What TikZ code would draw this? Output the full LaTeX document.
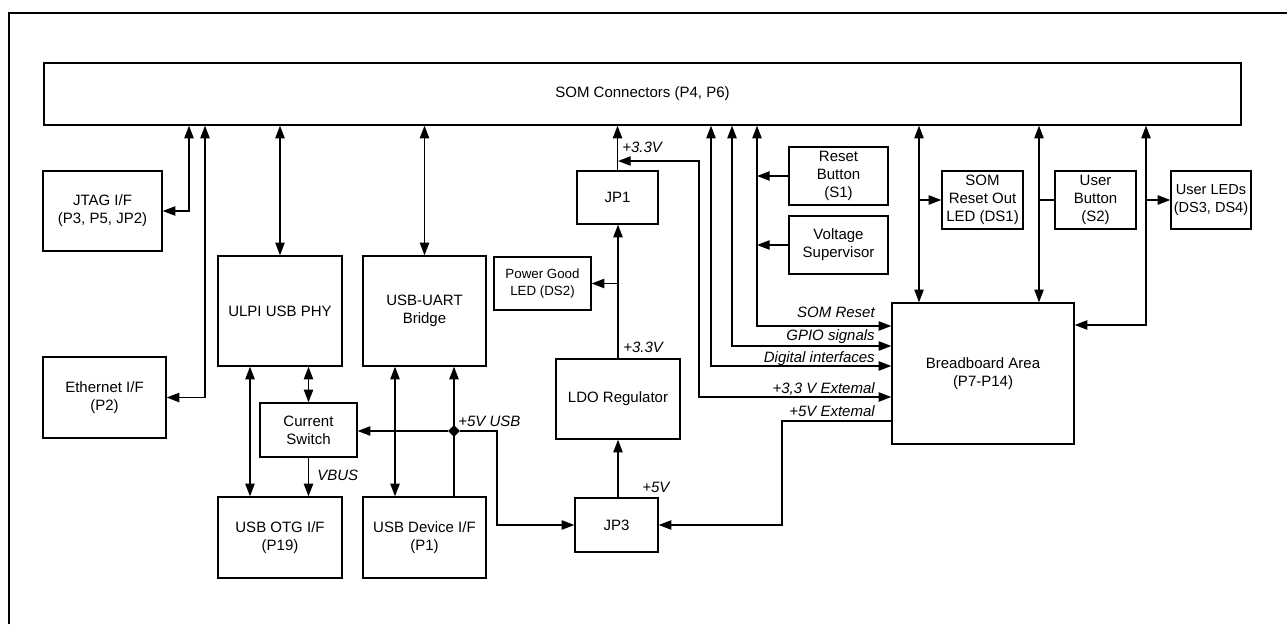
\documentclass[tikz,border=0pt]{standalone}
\usepackage{fontspec}
\setmainfont{Liberation Sans}
\usetikzlibrary{arrows.meta,shapes.geometric}
\newcommand\mybox[6]{\node[box,minimum width={(#4-#2)*0.75pt},minimum height={(#5-#3)*0.75pt}] (#1) at ({(#2+#4)/2},{(#3+#5)/2}) {#6};}
\begin{document}
\begin{tikzpicture}[x=0.75pt,y=-0.75pt,
  box/.style={draw,line width=1pt,align=center,inner sep=0pt,font=\fontsize{11.25pt}{13.5pt}\selectfont},
  wire/.style={line width=1pt},
  ar/.style={wire,-{Triangle[length=9.5pt,width=7pt]}},
  dar/.style={wire,{Triangle[length=9.5pt,width=7pt]}-{Triangle[length=9.5pt,width=7pt]}},
  lbl/.style={font=\fontsize{11.25pt}{13.5pt}\selectfont\itshape,inner sep=0pt}]
\useasboundingbox (0,0) rectangle (1287,624);
\draw[line width=2pt] (9,624) -- (9,13) -- (1287,13);
% boxes
\mybox{som}{44}{63}{1241}{125}{SOM Connectors (P4, P6)}
\mybox{jtag}{43}{171}{162}{251}{JTAG I/F\\(P3, P5, JP2)}
\mybox{eth}{43}{357}{166}{438}{Ethernet I/F\\(P2)}
\mybox{ulpi}{218}{256}{342}{366}{ULPI USB PHY}
\mybox{uart}{363}{256}{486}{366}{USB-UART\\Bridge}
\node[box,minimum width={97*0.75pt},minimum height={53*0.75pt},font=\fontsize{10pt}{12.5pt}\selectfont] (pg) at (542.5,283.5) {Power Good\\LED (DS2)};
\mybox{jp1}{577}{171}{658}{224}{JP1}
\mybox{ldo}{556}{359}{680}{439}{LDO Regulator}
\mybox{jp3}{575}{498}{658}{552}{JP3}
\mybox{cs}{260}{403}{357}{457}{Current\\Switch}
\mybox{otg}{218}{497}{342}{578}{USB OTG I/F\\(P19)}
\mybox{dev}{363}{497}{486}{578}{USB Device I/F\\(P1)}
\mybox{rst}{789}{147}{888}{205}{Reset\\Button\\(S1)}
\mybox{vs}{789}{216}{888}{274}{Voltage\\Supervisor}
\mybox{sro}{942}{171}{1023}{229}{SOM\\Reset Out\\LED (DS1)}
\mybox{ub}{1055}{171}{1136}{229}{User\\Button\\(S2)}
\node[box,minimum width={80*0.75pt},minimum height={58*0.75pt},font=\fontsize{10.9pt}{13.5pt}\selectfont] (leds) at (1211,200) {User LEDs\\(DS3, DS4)};
\mybox{bb}{892}{303}{1074}{444}{Breadboard Area\\(P7-P14)}
% helper coordinates
\coordinate (xj) at (189,0);
\coordinate (xe) at (205,0);
\coordinate (xo) at (250,0);
\coordinate (xd) at (395,0);
\coordinate (xr5) at (497,0);
\coordinate (c33) at (699,161);
\coordinate (xdi) at (711,0);
\coordinate (xg) at (732,0);
\coordinate (xr) at (757,0);
\coordinate (x5e) at (782,0);
\coordinate (xs) at (919,0);
\coordinate (xu) at (1039,0);
\coordinate (xl) at (1146,0);
\coordinate (ysr) at (0,326);
\coordinate (yg) at (0,346);
\coordinate (ydi) at (0,366);
\coordinate (y33) at (0,397);
\coordinate (y5e) at (0,421);
\coordinate (yl) at (0,325);
% left side
\draw[dar] (jtag.east) -| (som.south -| xj);
\draw[dar] (eth.east) -| (som.south -| xe);
\draw[dar] (som.south -| ulpi.north) -- (ulpi.north);
\draw[dar] (som.south -| uart.north) -- (uart.north);
\draw[dar] (ulpi.south -| xo) -- (otg.north -| xo);
\draw[dar] (ulpi.south -| cs.north) -- (cs.north);
\draw[ar] (cs.south) -- (otg.north -| cs.south);
\node[lbl,anchor=west] (lvbus) at (317,475) {VBUS};
\draw[dar] (uart.south -| xd) -- (dev.north -| xd);
\node[diamond,fill,inner sep=0pt,minimum size=9pt] (j5) at (454,431) {};
\draw[ar] (dev.north -| j5) -- (uart.south -| j5);
\draw[ar] (j5) -- (j5 -| cs.east);
\draw[ar] (j5) -- (j5 -| xr5) |- (jp3.west);
\node[lbl,anchor=west] (l5usb) at (458,421) {+5V USB};
% power
\draw[ar] (jp1.north) -- (som.south -| jp1.north);
\draw[ar] (ldo.north) -- (ldo.north |- jp1.south);
\draw[ar] (ldo.north |- pg.east) -- (pg.east);
\node[lbl,anchor=west] (l33a) at (622,147) {+3.3V};
\node[lbl,anchor=west] (l33b) at (623,347) {+3.3V};
\draw[ar] (jp3.north -| ldo.south) -- (ldo.south);
\node[lbl,anchor=west] (l5v) at (642,487) {+5V};
\draw[dar] (ldo.north |- c33) -- (c33) |- (bb.west |- y33);
\draw[ar] (bb.west |- y5e) -- (x5e |- y5e) -- (x5e |- jp3.east) -- (jp3.east);
% signals
\draw[dar] (som.south -| xr) |- (bb.west |- ysr);
\draw[dar] (som.south -| xg) |- (bb.west |- yg);
\draw[dar] (som.south -| xdi) |- (bb.west |- ydi);
\draw[ar] (rst.west) -- (rst.west -| xr);
\draw[ar] (vs.west) -- (vs.west -| xr);
\node[lbl,anchor=base east] (lsr) at (875,317) {SOM Reset};
\node[lbl,anchor=base east] (lgp) at (875,340) {GPIO signals};
\node[lbl,anchor=base east] (ldi) at (875,362) {Digital interfaces};
\node[lbl,anchor=base east] (l3e) at (875,393) {+3,3 V Extemal};
\node[lbl,anchor=base east] (l5e) at (875,416) {+5V Extemal};
% right side
\draw[dar] (som.south -| xs) -- (bb.north -| xs);
\draw[ar] (sro.west -| xs) -- (sro.west);
\draw[dar] (som.south -| xu) -- (bb.north -| xu);
\draw[wire] (ub.west -| xu) -- (ub.west);
\draw[dar] (som.south -| xl) |- (bb.east |- yl);
\draw[ar] (leds.west -| xl) -- (leds.west);
\end{tikzpicture}
\end{document}
